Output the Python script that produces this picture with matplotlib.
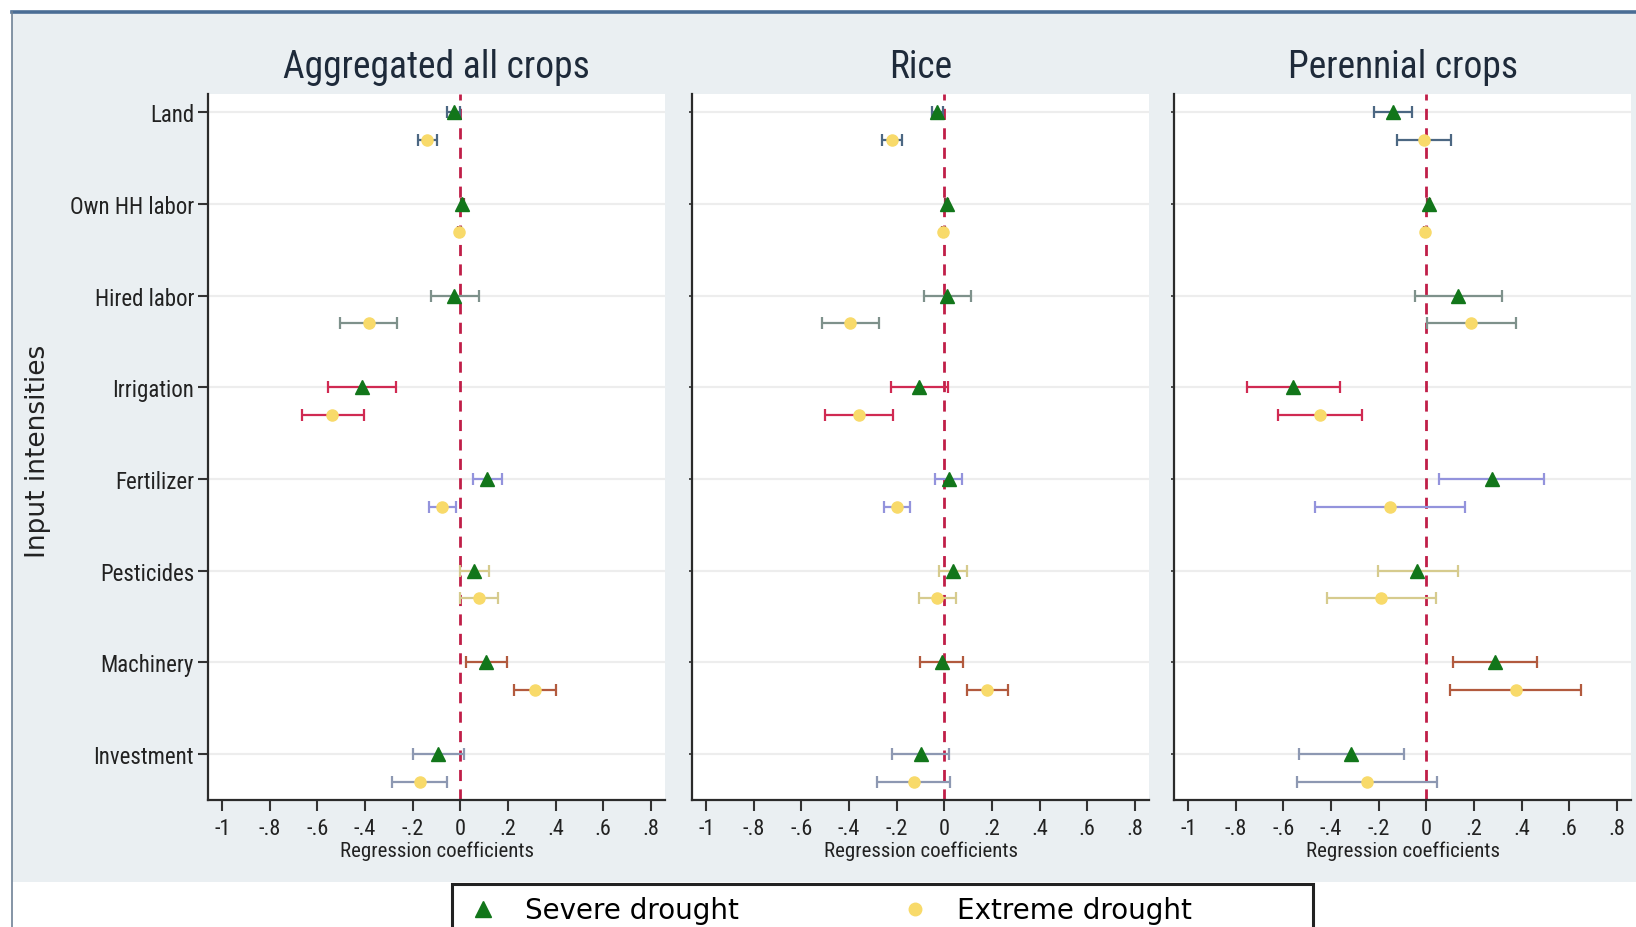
import matplotlib
matplotlib.use("Agg")
import matplotlib.pyplot as plt
from matplotlib.patches import Rectangle
from matplotlib.lines import Line2D
import matplotlib.font_manager as fm

# ---------------- data ----------------
categories = ["Land", "Own HH labor", "Hired labor", "Irrigation",
              "Fertilizer", "Pesticides", "Machinery", "Investment"]
panel_titles = ["Aggregated all crops", "Rice", "Perennial crops"]
series_names = ["Severe drought", "Extreme drought"]
xtick_values = [-1, -0.8, -0.6, -0.4, -0.2, 0, 0.2, 0.4, 0.6, 0.8]
xtick_labels = ["-1", "-.8", "-.6", "-.4", "-.2", "0", ".2", ".4", ".6", ".8"]

# Aggregated all crops
agg_severe = [-0.028, 0.009, -0.026, -0.412, 0.114, 0.058, 0.109, -0.092]
agg_severe_lo = [-0.054, 0.004, -0.125, -0.556, 0.054, -0.002, 0.024, -0.200]
agg_severe_hi = [0.000, 0.014, 0.077, -0.272, 0.176, 0.122, 0.195, 0.015]
agg_extreme = [-0.139, -0.004, -0.384, -0.537, -0.075, 0.077, 0.315, -0.170]
agg_extreme_lo = [-0.178, -0.009, -0.504, -0.667, -0.133, -0.002, 0.227, -0.285]
agg_extreme_hi = [-0.097, 0.001, -0.266, -0.406, -0.017, 0.157, 0.404, -0.056]

# Rice
rice_severe = [-0.030, 0.010, 0.013, -0.105, 0.018, 0.037, -0.010, -0.098]
rice_severe_lo = [-0.052, 0.005, -0.087, -0.224, -0.039, -0.024, -0.101, -0.218]
rice_severe_hi = [-0.004, 0.015, 0.113, 0.014, 0.076, 0.096, 0.080, 0.018]
rice_extreme = [-0.219, -0.004, -0.395, -0.359, -0.198, -0.032, 0.181, -0.129]
rice_extreme_lo = [-0.263, -0.009, -0.513, -0.501, -0.252, -0.108, 0.094, -0.283]
rice_extreme_hi = [-0.177, 0.001, -0.276, -0.217, -0.143, 0.049, 0.267, 0.023]

# Perennial crops
per_severe = [-0.141, 0.011, 0.135, -0.559, 0.274, -0.037, 0.288, -0.317]
per_severe_lo = [-0.220, 0.005, -0.048, -0.753, 0.052, -0.205, 0.111, -0.536]
per_severe_hi = [-0.062, 0.017, 0.317, -0.361, 0.496, 0.134, 0.467, -0.094]
per_extreme = [-0.010, -0.004, 0.189, -0.446, -0.152, -0.190, 0.375, -0.250]
per_extreme_lo = [-0.124, -0.010, 0.001, -0.621, -0.467, -0.417, 0.100, -0.543]
per_extreme_hi = [0.104, 0.002, 0.375, -0.271, 0.162, 0.039, 0.650, 0.044]

# ---------------- style ----------------
ci_colors = ["#4C6782", "#8A3B44", "#7E918B", "#D02A52",
             "#9393DC", "#D6CB8E", "#B25A3E", "#8D98B2"]
severe_color = "#12761A"
extreme_color = "#F8DA6A"
bg_color = "#EAEFF2"
zero_color = "#C01E48"

available = {f.name for f in fm.fontManager.ttflist}
narrow_pref = ["Liberation Sans Narrow", "Roboto Condensed", "Noto Sans Condensed",
               "Open Sans Condensed", "DejaVu Sans Condensed", "Roboto", "Liberation Sans"]
narrow_name = next((n for n in narrow_pref if n in available), "DejaVu Sans")
narrow = [narrow_name, "DejaVu Sans"]
wide = ["DejaVu Sans"]
cond = "condensed"

W, H = 1636, 928
fig = plt.figure(figsize=(W / 100, H / 100), dpi=100, facecolor="white")

# outer graph region
fig.add_artist(Rectangle((12 / W, 1 - 883 / H), 1, (883 - 13) / H, transform=fig.transFigure,
                         facecolor=bg_color, edgecolor="none", zorder=-10))
fig.add_artist(Line2D([12 / W, 1], [1 - 13 / H, 1 - 13 / H], transform=fig.transFigure,
                      color="#4A6D95", linewidth=2.6, zorder=-5))
fig.add_artist(Line2D([12 / W, 12 / W], [0, 1 - 13 / H], transform=fig.transFigure,
                      color="#6F8296", linewidth=1.2, zorder=-5))

panels = [
    (agg_severe, agg_severe_lo, agg_severe_hi, agg_extreme, agg_extreme_lo, agg_extreme_hi),
    (rice_severe, rice_severe_lo, rice_severe_hi, rice_extreme, rice_extreme_lo, rice_extreme_hi),
    (per_severe, per_severe_lo, per_severe_hi, per_extreme, per_extreme_lo, per_extreme_hi),
]
lefts = [208, 692, 1174]
pw = 457
top, bottom = 95, 801
offset = 0.3

for p, (sv, slo, shi, ev, elo, ehi) in enumerate(panels):
    ax = fig.add_axes([lefts[p] / W, 1 - bottom / H, pw / W, (bottom - top) / H])
    ax.set_zorder(1)
    ax.set_facecolor("white")
    ax.set_xlim(-1.06, 0.86)
    ax.set_ylim(7.5, -0.2)
    for i in range(len(categories)):
        ax.axhline(i, color="#EDEDED", linewidth=1.6, zorder=1)
    ax.axvline(0, color=zero_color, linestyle=(0, (4, 3)), linewidth=2.0, zorder=2)
    for i in range(len(categories)):
        c = ci_colors[i]
        ax.errorbar([sv[i]], [i], xerr=[[sv[i] - slo[i]], [shi[i] - sv[i]]],
                    fmt="none", ecolor=c, elinewidth=1.6, capsize=4, capthick=1.6, zorder=3)
        ax.errorbar([ev[i]], [i + offset], xerr=[[ev[i] - elo[i]], [ehi[i] - ev[i]]],
                    fmt="none", ecolor=c, elinewidth=1.6, capsize=4, capthick=1.6, zorder=3)
    ax.plot(sv, range(len(categories)), linestyle="none", marker="^",
            markersize=9.5, color=severe_color, zorder=4)
    ax.plot(ev, [i + offset for i in range(len(categories))], linestyle="none", marker="o",
            markersize=8, color=extreme_color, zorder=4)

    for s in ["top", "right"]:
        ax.spines[s].set_visible(False)
    for s in ["left", "bottom"]:
        ax.spines[s].set_color("#2B2B2B")
        ax.spines[s].set_linewidth(1.6)
    ax.set_xticks(xtick_values)
    ax.set_xticklabels(xtick_labels, family=narrow, stretch=cond,
                       fontsize=16, color="#222222")
    ax.tick_params(axis="x", length=8, width=1.5, color="#333333", pad=5)
    ax.set_yticks(range(len(categories)))
    if p == 0:
        ax.set_yticklabels(categories, family=narrow, stretch=cond,
                           fontsize=16.5, color="#222222")
        ax.tick_params(axis="y", length=7, width=1.5, color="#333333", pad=3)
    else:
        ax.set_yticklabels([])
        ax.tick_params(axis="y", length=2, width=1.2, color="#333333")
    ax.set_xlabel("Regression coefficients", family=narrow, stretch=cond,
                  fontsize=15, color="#222222", labelpad=1)
    fig.text((lefts[p] + pw / 2) / W, 1 - 68 / H, panel_titles[p], family=narrow,
             stretch=cond, fontsize=27, color="#1E2A3A", ha="center", va="center")

fig.text(38 / W, 1 - 451 / H, "Input intensities", family=wide, fontsize=19,
         rotation=90, ha="center", va="center", color="#222222")

# legend frame (cut by the bottom edge as in the original)
fig.add_artist(Rectangle((452 / W, 1 - 940 / H), (1313 - 452) / W, (940 - 885) / H,
                         transform=fig.transFigure, facecolor="white",
                         edgecolor="#222222", linewidth=2.2, zorder=2))
fs = 20
fs_px = fs * 100 / 72
handles = [Line2D([], [], linestyle="none", marker="^", markersize=11, color=severe_color),
           Line2D([], [], linestyle="none", marker="o", markersize=9, color=extreme_color)]
pad_px = 0.3 * fs_px
hl_px = 1.2 * fs_px
leg = fig.legend(handles, series_names, loc="upper left",
                 bbox_to_anchor=((483 - pad_px - hl_px / 2) / W, 1 - 889 / H),
                 borderaxespad=0, ncol=2, frameon=False,
                 prop={"family": wide, "size": fs}, handlelength=1.2,
                 handletextpad=(73 - 31 - hl_px / 2) / fs_px, borderpad=0.3,
                 columnspacing=5.75)
leg.set_zorder(3)

fig.savefig("out.png", dpi=100, facecolor="white")
